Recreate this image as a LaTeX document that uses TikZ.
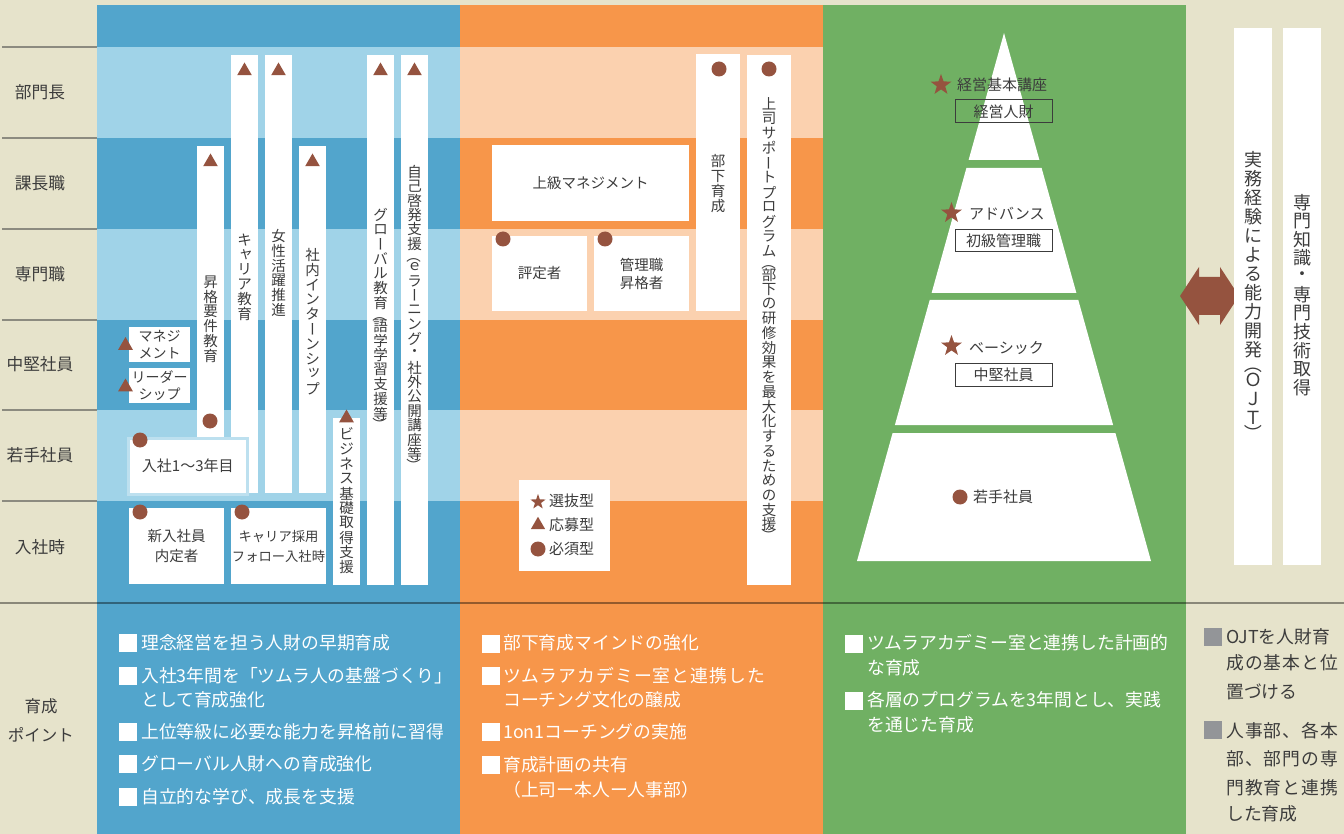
\documentclass[tikz,border=0pt]{standalone}
\usepackage{fontspec}
\usepackage{graphicx}
\setmainfont{Noto Sans CJK JP}
\newfontfamily\lsfont[LetterSpace=6]{Noto Sans CJK JP}
\usetikzlibrary{shapes.geometric}
\definecolor{bg}{HTML}{E6E3CB}
\definecolor{db}{HTML}{52A5CC}
\definecolor{lb}{HTML}{A0D3E8}
\definecolor{dor}{HTML}{F7964A}
\definecolor{lor}{HTML}{FBD1AF}
\definecolor{gr}{HTML}{70B063}
\definecolor{mk}{HTML}{95533F}
\definecolor{tx}{HTML}{3C3C3C}
\definecolor{gq}{HTML}{939598}
\definecolor{ln}{HTML}{8C8B80}
\newcommand\fs[2]{\fontsize{#1}{#2}\selectfont}
% vertical text machinery
\newlength\vpitch
\def\vtend{\vtend}
\newcommand\vcell[1]{\hbox to 1em{\hss\vbox to \vpitch{\vss\hbox{#1}\vss}\hss}}
\newcommand\vhcell[1]{\hbox to 1em{\hss\vbox to 0.6\vpitch{\vss\hbox{#1}\vss}\hss}}
\newcommand\vscell[1]{\hbox to 1em{\hss\vbox to \vpitch{\vss\hbox{\kern.2em#1}\vskip.05em\vss}\hss}}
\newcommand\vstrut{\vrule height .88em depth .12em width 0pt}
\newcommand\vchar[1]{%
  \ifx ー#1\vcell{\rotatebox[origin=c]{90}{\vstrut ー}}%
  \else\ifx （#1\vhcell{\rotatebox[origin=c]{-90}{\vstrut （}}%
  \else\ifx ）#1\vhcell{\rotatebox[origin=c]{-90}{\vstrut ）}}%
  \else\ifx ャ#1\vscell{ャ}%
  \else\ifx ッ#1\vscell{ッ}%
  \else\vcell{#1}\fi\fi\fi\fi\fi}
\def\vtloop#1{\ifx\vtend#1\else\vchar{#1}\expandafter\vtloop\fi}
\newcommand\vtxt[3]{\fs{#1}{#1}\setlength\vpitch{#2pt}\vbox{\offinterlineskip\vtloop#3\vtend}}
% rectangle node from corner coordinates
\newcommand\rn[6]{\node[#2,minimum width={#5-#3},minimum height={#6-#4}] (#1) at ({(#3+#5)/2},{(#4+#6)/2})}
\tikzset{
  wbx/.style={fill=white, inner sep=0, align=center, text=tx, font=\fs{14.5}{18}},
  bar/.style={fill=white, inner sep=0},
  lbox/.style={draw=tx, line width=1, inner sep=0, text=tx, font=\fs{15}{18}},
  tri/.style={regular polygon, regular polygon sides=3, fill=mk, inner sep=0, minimum size=17},
  dot/.style={circle, fill=mk, inner sep=0, minimum size=15},
  stard/.style={star, star points=5, star point ratio=2.5, fill=mk, inner sep=0, minimum size=22},
  lbl/.style={inner sep=0, text=tx, font=\fs{16.7}{20}},
  vt/.style={inner sep=0, anchor=north, text=tx},
  ptxt/.style={inner sep=0, anchor=base west, text=white, font=\fs{17.8}{20}},
  gtxt/.style={inner sep=0, anchor=base west, text=tx, font=\fs{17.8}{20}},
  ctxt/.style={inner sep=0, anchor=base west, text=tx, font=\fs{15}{18}},
  wsq/.style={fill=white, inner sep=0, minimum size=18},
  gsq/.style={fill=gq, inner sep=0, minimum size=18},
}
\begin{document}
\begin{tikzpicture}[x=1pt,y=-1pt]
\path[use as bounding box] (0,0) rectangle (1344,834);
\fill[bg] (0,0) rectangle (1344,834);
% column backgrounds
\fill[db] (97,5) rectangle (460,834);
\fill[dor] (460,5) rectangle (823,834);
\fill[gr] (823,5) rectangle (1186,834);
\foreach \a/\b in {47/138,229/320,410/501}{
  \fill[lb] (97,\a) rectangle (460,\b);
  \fill[lor] (460,\a) rectangle (823,\b);
}
\foreach \y in {47,138,229,320,410,501} \draw[ln, line width=1.2] (2,\y) -- (97,\y);
\draw[black, opacity=.4, line width=1.6] (0,603) -- (1344,603);

% left labels
\node[lbl] (lBumon) at (40,92) {部門長};
\node[lbl] (lKacho) at (40,183) {課長職};
\node[lbl] (lSenmon) at (40,274) {専門職};
\node[lbl] (lChuken) at (40,364) {中堅社員};
\node[lbl] (lWakate) at (40,455) {若手社員};
\node[lbl] (lNyusha) at (40,547) {入社時};
\node[lbl, font=\fs{16.5}{20}] (lIku) at (41,706) {育成};
\node[lbl, font=\fs{16.5}{20}] (lPoint) at (41,735) {ポイント};

% ---- blue column ----
\rn{bShokaku}{bar}{197}{146}{224}{437}{};
\rn{bCareer}{bar}{231}{55}{258}{493}{};
\rn{bJosei}{bar}{265}{55}{292}{493}{};
\rn{bIntern}{bar}{299}{146}{326}{493}{};
\rn{bBiz}{bar}{333}{418}{360}{585}{};
\rn{bGlobal}{bar}{367}{55}{394}{585}{};
\rn{bJiko}{bar}{401}{55}{428}{585}{};
\node[vt] (tShokaku) at (210.5,274.5) {\vtxt{14.5}{14.8}{昇格要件教育}};
\node[vt] (tCareer) at (244.5,232.5) {\vtxt{14.5}{14.8}{キャリア教育}};
\node[vt] (tJosei) at (278.5,228.5) {\vtxt{14.5}{14.8}{女性活躍推進}};
\node[vt] (tIntern) at (312.5,247.5) {\vtxt{14.5}{14.8}{社内インターンシップ}};
\node[vt] (tBiz) at (346.5,426.5) {\vtxt{14.5}{14.8}{ビジネス基礎取得支援}};
\node[vt] (tGlobal) at (380.5,207.5) {\vtxt{14.5}{14.6}{グローバル教育（語学学習支援等）}};
\node[vt] (tJiko) at (414.5,164.5) {\vtxt{14.5}{14.4}{自己啓発支援（ｅラーニング・社外公開講座等）}};
\rn{xMgt}{wbx,font=\fs{14}{17}}{129}{327}{190}{362}{マネジ\\メント};
\rn{xLdr}{wbx,font=\fs{14}{17}}{129}{368}{190}{403}{リーダー\\シップ};
\rn{x13}{wbx,draw=lb!70!white,line width=3,font=\fs{15}{18}}{128}{438}{247.5}{494}{入社1～3年目};
\rn{xShin}{wbx,font=\fs{14.5}{20}}{129}{508}{224}{584}{新入社員\\内定者};
\rn{xCar}{wbx,font=\fs{13.3}{20}}{231}{508}{326}{584}{キャリア採用\\フォロー入社時};
% markers blue
\node[tri] (mShokaku) at (210.5,162) {};
\node[tri] (mCareer) at (244.5,71) {};
\node[tri] (mJosei) at (278.5,71) {};
\node[tri] (mIntern) at (312.5,162) {};
\node[tri] (mGlobal) at (380.5,71) {};
\node[tri] (mJiko) at (414.5,71) {};
\node[tri] (mBiz) at (346.5,418) {};
\node[tri] (mMgt) at (125.5,345.5) {};
\node[tri] (mLdr) at (125.5,387) {};
\node[dot] (dShokaku) at (210,421) {};
\node[dot] (d13) at (140,440) {};
\node[dot] (dShin) at (140,512) {};
\node[dot] (dCar) at (242,512) {};

% ---- orange column ----
\rn{oJokyu}{wbx}{492}{145}{689}{221}{上級マネジメント};
\rn{oBuka}{bar}{696}{54}{740}{311}{};
\rn{oJoshi}{bar}{747}{55}{791}{585}{};
\rn{oHyotei}{wbx}{492}{236}{587}{311}{評定者};
\rn{oKanri}{wbx}{594}{236}{689}{311}{管理職\\昇格者};
\node[vt] (tBuka) at (718,153.5) {\vtxt{14.5}{15}{部下育成}};
\node[vt] (tJoshi) at (769,96.5) {\vtxt{14.5}{14.7}{上司サポートプログラム（部下の研修効果を最大化するための支援）}};
\node[dot] (dBuka) at (719,69) {};
\node[dot] (dJoshi) at (769,69) {};
\node[dot] (dHyotei) at (503,239) {};
\node[dot] (dKanri) at (605,239) {};
% legend
\rn{oLeg}{bar}{519}{480}{610}{571}{};
\node[stard, minimum size=16] (gStar) at (538,502) {};
\node[tri, minimum size=16.5] (gTri) at (538,525) {};
\node[dot] (gDot) at (538,549) {};
\node[ctxt] (gT1) at (549,506.5) {選抜型};
\node[ctxt] (gT2) at (549,530.5) {応募型};
\node[ctxt] (gT3) at (549,554.5) {必須型};

% ---- green column: pyramid ----
\fill[white] (1004,33) -- (1039.4,160) -- (968.6,160) -- cycle;
\fill[white] (966.4,168) -- (1041.6,168) -- (1076.4,293) -- (931.6,293) -- cycle;
\fill[white] (929.7,300) -- (1078.3,300) -- (1113.1,425) -- (894.9,425) -- cycle;
\fill[white] (892.6,433) -- (1115.4,433) -- (1151,561) -- (857,561) -- cycle;
\node[stard] (sKeiei) at (941,85) {};
\node[ctxt] (pKeiei) at (957,91) {経営基本講座};
\rn{pBox1}{lbox}{955}{100}{1052}{123}{経営人財};
\node[stard] (sAdv) at (951.5,213) {};
\node[ctxt] (pAdv) at (969,220) {アドバンス};
\rn{pBox2}{lbox}{955}{230}{1052}{252}{初級管理職};
\node[stard] (sBasic) at (951.5,346) {};
\node[ctxt] (pBasic) at (969,353) {ベーシック};
\rn{pBox3}{lbox}{955}{363}{1052}{386}{中堅社員};
\node[dot] (dWakate) at (960,497) {};
\node[ctxt] (pWakate) at (973,502.5) {若手社員};

% ---- right column ----
\fill[mk] (1180,296) -- (1199,267) -- (1199,277) -- (1220,277) -- (1220,267) -- (1239,296)
  -- (1220,325) -- (1220,315) -- (1199,315) -- (1199,325) -- cycle;
\rn{rOJT}{bar}{1234}{28}{1272}{565}{};
\rn{rSen}{bar}{1283}{28}{1321}{565}{};
\node[vt] (tOJT) at (1253,150) {\vtxt{18}{19}{実務経験による能力開発（ＯＪＴ）}};
\node[vt] (tSen) at (1302,193) {\vtxt{18}{18.5}{専門知識・専門技術取得}};

% ---- bottom points ----
\node[wsq] (q1) at (128,643) {};
\node[wsq] (q2) at (128,676) {};
\node[wsq] (q3) at (128,732) {};
\node[wsq] (q4) at (128,764) {};
\node[wsq] (q5) at (128,797) {};
\node[ptxt] (p1) at (141,649.6) {理念経営を担う人財の早期育成};
\node[ptxt] (p2) at (141,682.6) {入社3年間を「ツムラ人の基盤づくり」};
\node[ptxt] (p2b) at (141,706.6) {として育成強化};
\node[ptxt] (p3) at (141,738.6) {上位等級に必要な能力を昇格前に習得};
\node[ptxt] (p4) at (141,770.6) {グローバル人財への育成強化};
\node[ptxt] (p5) at (141,803.6) {自立的な学び、成長を支援};

\node[wsq] (qo1) at (491,644) {};
\node[wsq] (qo2) at (491,676) {};
\node[wsq] (qo3) at (491,732) {};
\node[wsq] (qo4) at (491,765) {};
\node[ptxt] (po1) at (503,649.6) {部下育成マインドの強化};
\node[ptxt, font=\lsfont\fs{17.8}{20}] (po2) at (503,682.6) {ツムラアカデミー室と連携した};
\node[ptxt] (po2b) at (503,706.6) {コーチング文化の醸成};
\node[ptxt] (po3) at (503,738.6) {1on1コーチングの実施};
\node[ptxt] (po4) at (503,771.6) {育成計画の共有};
\node[ptxt] (po4b) at (503,796.6) {（上司ー本人ー人事部）};

\node[wsq] (qg1) at (854,644) {};
\node[wsq] (qg2) at (854,701) {};
\node[ptxt] (pg1) at (867,649.6) {ツムラアカデミー室と連携した計画的};
\node[ptxt] (pg1b) at (867,674.6) {な育成};
\node[ptxt] (pg2) at (867,706.6) {各層のプログラムを3年間とし、実践};
\node[ptxt] (pg2b) at (867,731.6) {を通じた育成};

\node[gsq] (qb1) at (1213,637) {};
\node[gsq] (qb2) at (1213,730) {};
\node[gtxt] (pb1) at (1226,643.6) {OJTを人財育};
\node[gtxt, font=\lsfont\fs{17.8}{20}] (pb1b) at (1226,669.6) {成の基本と位};
\node[gtxt] (pb1c) at (1226,698.6) {置づける};
\node[gtxt, font=\lsfont\fs{17.8}{20}] (pb2) at (1226,737.6) {人事部、各本};
\node[gtxt, font=\lsfont\fs{17.8}{20}] (pb2b) at (1226,765.6) {部、部門の専};
\node[gtxt, font=\lsfont\fs{17.8}{20}] (pb2c) at (1226,794.6) {門教育と連携};
\node[gtxt] (pb2d) at (1226,820.6) {した育成};
\end{tikzpicture}
\end{document}
